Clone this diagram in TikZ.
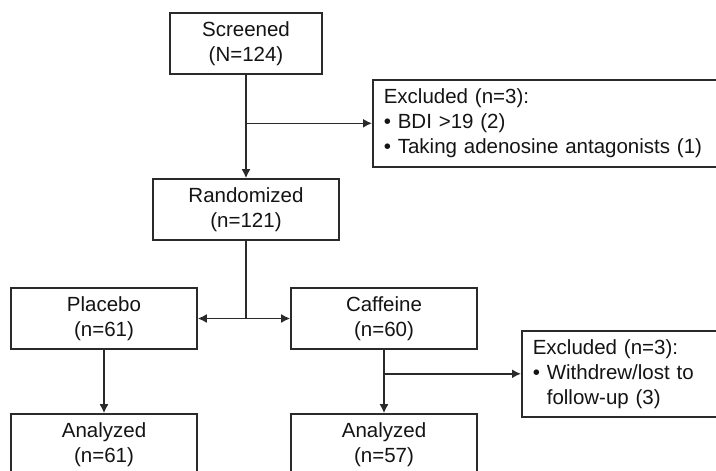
\documentclass[tikz,border=0pt]{standalone}
\usepackage{fontspec}
\setmainfont{Liberation Sans}
\usetikzlibrary{arrows.meta}
\definecolor{ink}{HTML}{141414}
\definecolor{edge}{HTML}{2A2A2A}
\begin{document}
\begin{tikzpicture}[x=1pt,y=-1pt,
  box/.style={draw=edge,line width=1.6pt,fill=white,text=ink,align=center,
    font=\fontsize{20.5}{24.5}\selectfont,inner sep=0pt,minimum height=61pt},
  exbox/.style={draw=edge,line width=1.6pt,fill=white,text=ink,align=left,
    font=\fontsize{20.5}{25}\selectfont,inner xsep=11pt,inner ysep=0pt,anchor=north west},
  arr/.style={draw=edge,line width=1.6pt,-{Latex[length=9pt,width=9pt]}},
  ln/.style={draw=edge,line width=1.6pt}]
\useasboundingbox (0,0) rectangle (716,471);
\clip (0,0) rectangle (716,471);
\fill[white] (0,0) rectangle (716,471);
\node[box,minimum width=152pt] (scr) at (246,43.5) {Screened\\(N=124)};
\node[box,minimum width=186pt] (rand) at (246,209.5) {Randomized\\(n=121)};
\node[box,minimum width=186pt] (plac) at (104,318.5) {Placebo\\(n=61)};
\node[box,minimum width=186pt] (caff) at (384,318.5) {Caffeine\\(n=60)};
\node[box,minimum width=186pt] (an1) at (104,444.5) {Analyzed\\(n=61)};
\node[box,minimum width=186pt] (an2) at (384,444.5) {Analyzed\\(n=57)};
\node[exbox,text width=340pt,minimum height=87pt] (ex1) at (372,79)
  {Excluded (n=3):\\\textbullet\ BDI >19 (2)\\\textbullet\ Taking adenosine antagonists (1)};
\node[exbox,text width=200pt,minimum height=86pt] (ex2) at (521,330)
  {Excluded (n=3):\\\textbullet\ Withdrew/lost to\\\phantom{\textbullet\ }follow-up (3)};
\draw[arr] (scr.south) -- (rand.north);
\coordinate (b1) at (scr.south |- ex1.west);
\draw[arr] (b1) -- (ex1.west);
\coordinate (split) at (rand.south |- plac.east);
\draw[ln] (rand.south) -- (split);
\draw[arr] (split) -- (plac.east);
\draw[arr] (split) -- (caff.west);
\draw[arr] (plac.south) -- (an1.north);
\draw[arr] (caff.south) -- (an2.north);
\coordinate (b2) at (caff.south |- ex2.west);
\draw[arr] (b2) -- (ex2.west);
\end{tikzpicture}
\end{document}
